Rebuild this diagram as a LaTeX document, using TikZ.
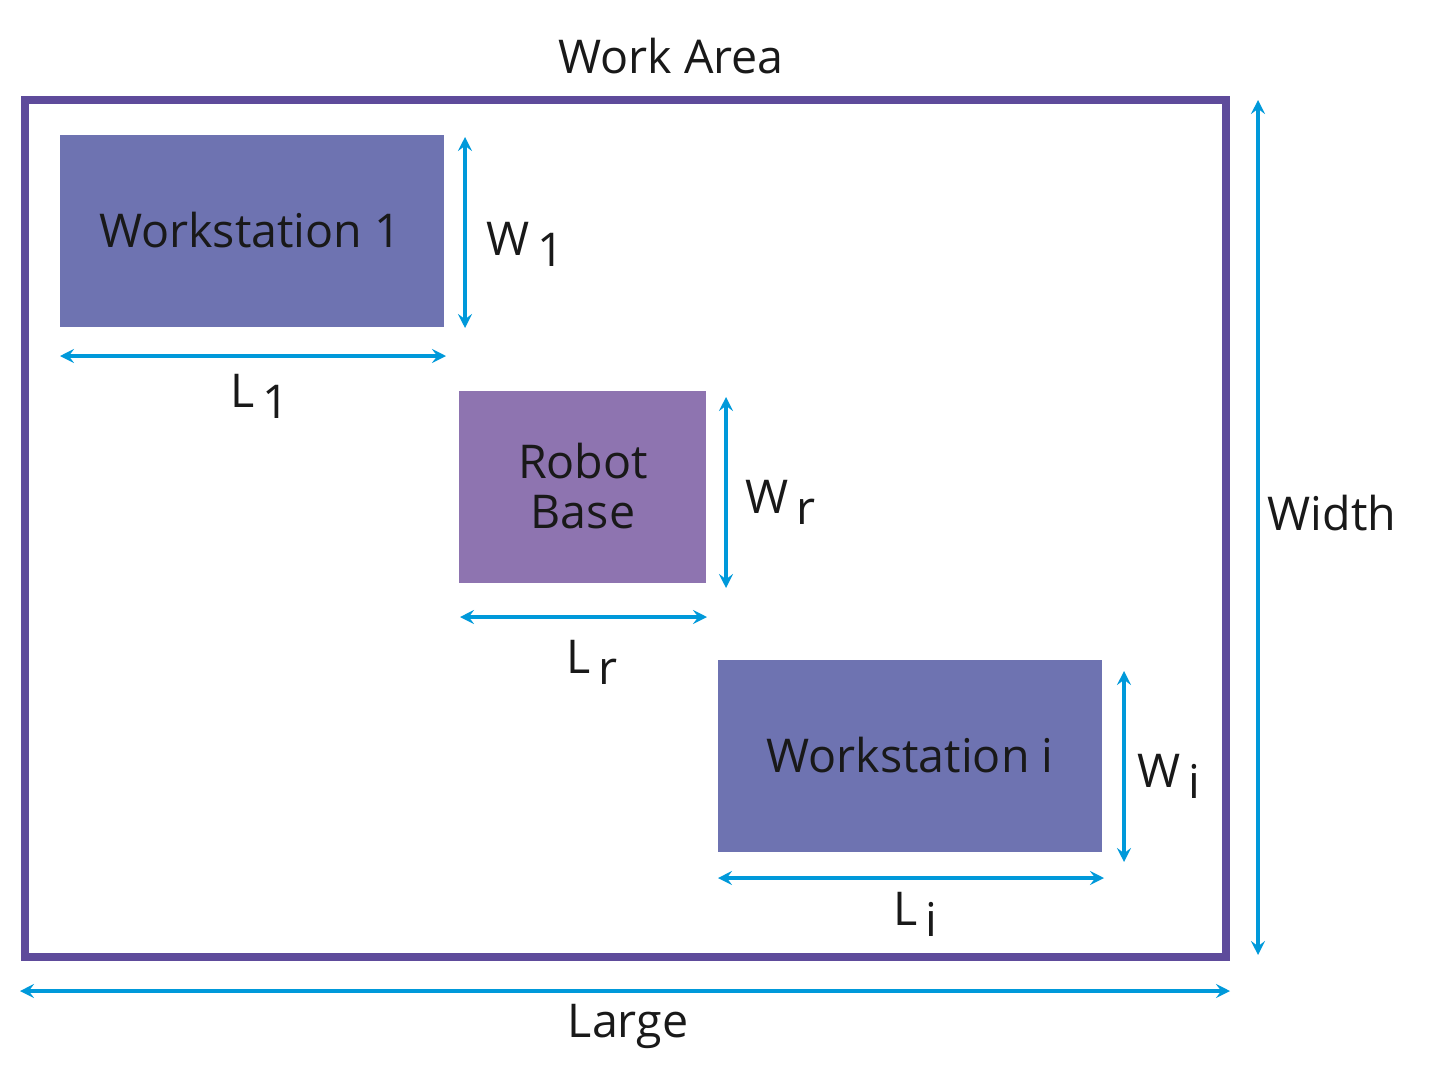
\documentclass[tikz,border=0pt]{standalone}
\usepackage{fontspec}
\setmainfont{Open Sans}
\usetikzlibrary{arrows.meta}
\definecolor{frame}{HTML}{5E4B9B}
\definecolor{ws}{HTML}{6E73B1}
\definecolor{rb}{HTML}{8E74B0}
\definecolor{dim}{HTML}{0099DA}
\begin{document}
\begin{tikzpicture}[x=0.02cm,y=-0.02cm,
  lbl/.style={font=\fontsize{26.5}{28}\selectfont,text=black!90,inner sep=0},
  dimarr/.style={draw=dim,line width=2.3pt,{Stealth[length=8pt,width=8pt,inset=3pt]}-{Stealth[length=8pt,width=8pt,inset=3pt]}}]
\useasboundingbox (0,0) rectangle (1432,1078);
\draw[frame,line width=4.3pt] (25,100) rectangle (1226,957);
\fill[ws] (60,135) rectangle (444,327);
\fill[rb] (459,391) rectangle (706,583);
\fill[ws] (718,660) rectangle (1102,852);
\node[lbl] (t1) at (250,230) {Workstation 1};
\node[lbl,align=center,font=\fontsize{26.5}{28.5}\selectfont] (tr) at (583,486) {Robot\\Base};
\node[lbl] (ti) at (910,755) {Workstation i};
\node[lbl] (wa) at (671,56) {Work Area};
\coordinate (a1) at (465,137); \coordinate (a2) at (465,328);
\coordinate (b1) at (60,356); \coordinate (b2) at (446,356);
\coordinate (c1) at (726,397); \coordinate (c2) at (726,588);
\coordinate (d1) at (460,617); \coordinate (d2) at (707,617);
\coordinate (e1) at (1124,671); \coordinate (e2) at (1124,862);
\coordinate (f1) at (718,878); \coordinate (f2) at (1104,878);
\coordinate (g1) at (1258,100); \coordinate (g2) at (1258,955);
\coordinate (h1) at (20,991); \coordinate (h2) at (1230,991);
\foreach \p in {a,b,c,d,e,f,g,h} \draw[dimarr] (\p1) -- (\p2);
\newcommand{\sublbl}[2]{#1\,\raisebox{-0.45ex}{#2}}
\node[lbl,anchor=west] (lw1) at (486,244) {\sublbl{W}{1}};
\node[lbl] (ll1) at (260,396) {\sublbl{L}{1}};
\node[lbl,anchor=west] (lwr) at (745,502) {\sublbl{W}{r}};
\node[lbl] (llr) at (592,662) {\sublbl{L}{r}};
\node[lbl,anchor=west] (lwi) at (1137,776) {\sublbl{W}{i}};
\node[lbl] (lli) at (915,914) {\sublbl{L}{i}};
\node[lbl] (lw) at (1332,513) {Width};
\node[lbl] (lg) at (628,1026) {Large};
\end{tikzpicture}
\end{document}
